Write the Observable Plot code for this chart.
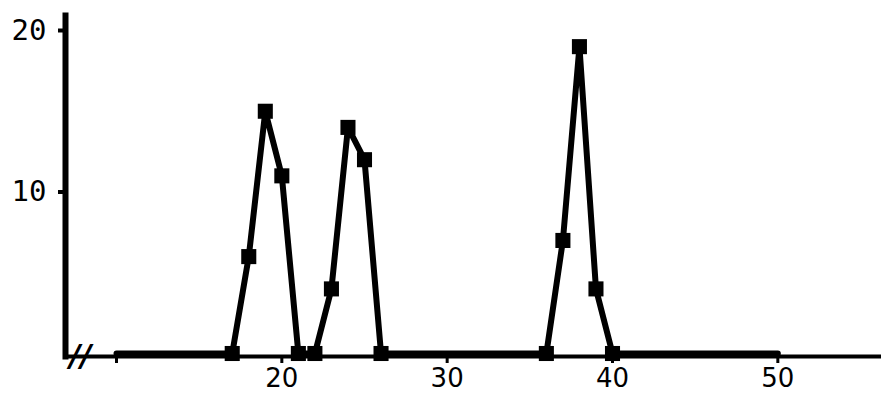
<!DOCTYPE html>
<html>
<head>
<meta charset="utf-8">
<script src="https://cdn.jsdelivr.net/npm/d3@7"></script>
<script src="https://cdn.jsdelivr.net/npm/@observablehq/plot@0.6"></script>
<style>
  html, body { margin: 0; padding: 0; background: #fff; }
  #chart svg { display: block; }
</style>
</head>
<body>
<div id="chart"></div>
<script>
// Measured points (marked with squares)
const xValues = [17, 18, 19, 20, 21, 22, 23, 24, 25, 26, 36, 37, 38, 39, 40];
const yValues = [0, 6, 15, 11, 0, 0, 4, 14, 12, 0, 0, 7, 19, 4, 0];

// Flat baseline ends of the trace (no markers)
const baselineStart = 10;
const baselineEnd = 50;

// Axis ticks and labels
const xTickMarks = [10, 20, 30, 40, 50];
const xTickLabels = [20, 30, 40, 50];
const yTickLabels = [10, 20];

const points = xValues.map((x, i) => ({x, y: yValues[i]}));
const trace = [{x: baselineStart, y: 0}, ...points, {x: baselineEnd, y: 0}];

const chart = Plot.plot({
  width: 881,
  height: 408,
  marginLeft: 65,
  marginRight: 0,
  marginTop: 15,
  marginBottom: 52,
  style: {fontFamily: "DejaVu Sans Mono", color: "#000", background: "#fff"},
  x: {domain: [10, 40], range: [116, 612], axis: null, label: null},
  y: {domain: [0, 20], range: [353, 30], axis: null, label: null},
  marks: [
    // axis lines
    Plot.ruleY([0], {dy: 3, stroke: "#000", strokeWidth: 4}),
    Plot.frame({anchor: "left", stroke: "#000", strokeWidth: 6}),
    // x ticks (small marks below the axis) and labels
    Plot.axisX(xTickMarks, {anchor: "bottom", label: null, tickSize: 7, tickFormat: () => "", strokeWidth: 3}),
    Plot.axisX(xTickLabels, {anchor: "bottom", label: null, tickSize: 0, tickPadding: 12, fontSize: 26, fontFamily: "DejaVu Sans"}),
    // y ticks and labels
    Plot.axisY(yTickLabels, {anchor: "left", label: null, tickSize: 7, tickPadding: 12, strokeWidth: 4, fontSize: 29}),
    // axis break
    Plot.text(["//"], {frameAnchor: "bottom-left", dx: 4, dy: 0, lineAnchor: "middle", fontSize: 30, fontWeight: "bold", fontStyle: "italic", fontFamily: "DejaVu Sans", fill: "#000"}),
    // trace
    Plot.line(trace, {x: "x", y: "y", stroke: "#000", strokeWidth: 6, strokeLinejoin: "round", strokeLinecap: "round"}),
    Plot.dot(points, {x: "x", y: "y", symbol: "square", r: 8.5, fill: "#000", stroke: "none"})
  ]
});

document.getElementById("chart").append(chart);
</script>
</body>
</html>
